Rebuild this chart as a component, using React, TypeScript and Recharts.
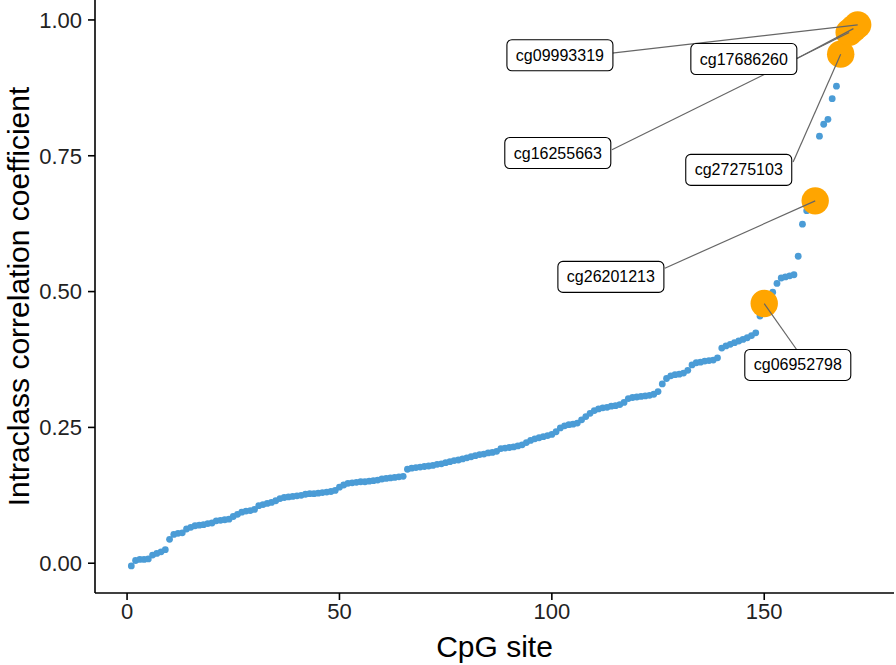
import { ScatterChart, Scatter, XAxis, YAxis, Label } from "recharts";

// ICC per CpG site, sorted ascending (site 1..172)
const iccValues = [
  -0.005, 0.005, 0.007, 0.007, 0.008, 0.015, 0.018, 0.021, 0.025, 0.044,
  0.053, 0.055, 0.056, 0.063, 0.066, 0.069, 0.07, 0.071, 0.073, 0.074,
  0.078, 0.079, 0.08, 0.081, 0.086, 0.09, 0.094, 0.096, 0.097, 0.099,
  0.106, 0.108, 0.11, 0.112, 0.115, 0.119, 0.121, 0.122, 0.123, 0.124,
  0.125, 0.127, 0.128, 0.128, 0.129, 0.13, 0.131, 0.132, 0.134, 0.14,
  0.144, 0.147, 0.148, 0.149, 0.15, 0.15, 0.151, 0.152, 0.153, 0.155,
  0.156, 0.157, 0.158, 0.159, 0.16, 0.173, 0.175, 0.176, 0.177, 0.178,
  0.179, 0.18, 0.182, 0.183, 0.185, 0.187, 0.189, 0.19, 0.192, 0.194,
  0.196, 0.198, 0.2, 0.201, 0.203, 0.204, 0.206, 0.211, 0.212, 0.213,
  0.214, 0.216, 0.218, 0.222, 0.226, 0.229, 0.231, 0.233, 0.235, 0.237,
  0.242, 0.249, 0.253, 0.255, 0.256, 0.258, 0.264, 0.27, 0.276, 0.281,
  0.284, 0.286, 0.287, 0.289, 0.29, 0.292, 0.296, 0.303, 0.305, 0.306,
  0.307, 0.308, 0.309, 0.311, 0.316, 0.33, 0.34, 0.345, 0.347, 0.348,
  0.35, 0.355, 0.365, 0.369, 0.37, 0.372, 0.373, 0.374, 0.378, 0.396,
  0.4, 0.403, 0.406, 0.409, 0.412, 0.415, 0.419, 0.424, 0.455, 0.478,
  0.495, 0.499, 0.515, 0.525, 0.527, 0.529, 0.531, 0.565, 0.624, 0.649,
  0.656, 0.667, 0.786, 0.808, 0.817, 0.855, 0.878, 0.937, 0.968, 0.977,
  0.984, 0.991,
];

const highlightSites = [150, 162, 168, 170, 171, 172];
const highlightNames = [
  "cg06952798",
  "cg26201213",
  "cg27275103",
  "cg16255663",
  "cg17686260",
  "cg09993319",
];

// label box centres and segment start points, in data units
const labelCenters = [
  [157.9, 0.365],
  [113.9, 0.527],
  [144.0, 0.724],
  [101.4, 0.755],
  [145.2, 0.928],
  [101.9, 0.935],
];
const segmentStarts = [
  [157.7, 0.3925],
  [126.6, 0.543],
  [156.8, 0.7385],
  [114.15, 0.761],
  [157.5, 0.928],
  [114.15, 0.939],
];

const xTicks = [0, 50, 100, 150];
const yTicks = [0, 0.25, 0.5, 0.75, 1];

const points = iccValues.map((v, i) => ({ site: i + 1, icc: v }));
const highlighted = highlightSites.map((s) => ({ site: s, icc: iccValues[s - 1] }));
const segments = highlighted.map((h, i) => [
  { site: segmentStarts[i][0], icc: segmentStarts[i][1] },
  { site: h.site, icc: h.icc },
]);
const labels = highlightNames.map((name, i) => ({
  site: labelCenters[i][0],
  icc: labelCenters[i][1],
  name,
}));

const FONT = "'Liberation Sans', Arial, Helvetica, sans-serif";
const BLUE = "#4b9cd6";
const ORANGE = "#ffa500";

const SmallDot = (p: any) => <circle cx={p.cx} cy={p.cy} r={3.4} fill={BLUE} />;
const BigDot = (p: any) => <circle cx={p.cx} cy={p.cy} r={13.7} fill={ORANGE} />;
const NoDot = () => <g />;

const LabelBox = (p: any) => (
  <g>
    <rect
      x={p.cx - 53}
      y={p.cy - 15.5}
      width={106}
      height={31}
      rx={5}
      ry={5}
      fill="#fff"
      stroke="#000"
      strokeWidth={1.1}
    />
    <text
      x={p.cx}
      y={p.cy + 5.5}
      textAnchor="middle"
      fontSize={16}
      fontFamily={FONT}
      fill="#000"
    >
      {p.payload?.name ?? p.name}
    </text>
  </g>
);

export default function App() {
  return (
    <div style={{ width: 896, height: 665, background: "#fff" }}>
      <style>{"body{margin:0}"}</style>
      <ScatterChart
        width={896}
        height={665}
        margin={{ top: 0, right: 2, bottom: 0, left: 0 }}
      >
        <XAxis
          type="number"
          dataKey="site"
          domain={[-7.55, 180.55]}
          ticks={xTicks}
          height={72}
          tickSize={7}
          tickMargin={3}
          stroke="#000"
          strokeWidth={1.6}
          tick={{ fill: "#222", fontSize: 22, fontFamily: FONT }}
        >
          <Label
            content={({ viewBox }: any) => (
              <text
                x={viewBox.x + viewBox.width / 2}
                y={657}
                textAnchor="middle"
                fontSize={30}
                fontFamily={FONT}
                fill="#000"
              >
                CpG site
              </text>
            )}
          />
        </XAxis>
        <YAxis
          type="number"
          dataKey="icc"
          domain={[-0.0548, 1.0367]}
          ticks={yTicks}
          width={95}
          tickSize={7}
          tickMargin={6}
          stroke="#000"
          strokeWidth={1.6}
          tickFormatter={(v: number) => v.toFixed(2)}
          tick={{ fill: "#222", fontSize: 22, fontFamily: FONT }}
        >
          <Label
            content={({ viewBox }: any) => {
              const cy = viewBox.y + viewBox.height / 2;
              return (
                <text
                  x={29}
                  y={cy}
                  transform={`rotate(-90 29 ${cy})`}
                  textAnchor="middle"
                  fontSize={30}
                  fontFamily={FONT}
                  fill="#000"
                >
                  Intraclass correlation coefficient
                </text>
              );
            }}
          />
        </YAxis>
        <Scatter data={points} shape={SmallDot} isAnimationActive={false} />
        <Scatter data={highlighted} shape={BigDot} isAnimationActive={false} />
        {segments.map((seg, i) => (
          <Scatter
            key={"seg" + i}
            data={seg}
            shape={NoDot}
            line={{ stroke: "#666", strokeWidth: 1.2 }}
            isAnimationActive={false}
          />
        ))}
        <Scatter data={labels} shape={LabelBox} isAnimationActive={false} />
      </ScatterChart>
    </div>
  );
}
